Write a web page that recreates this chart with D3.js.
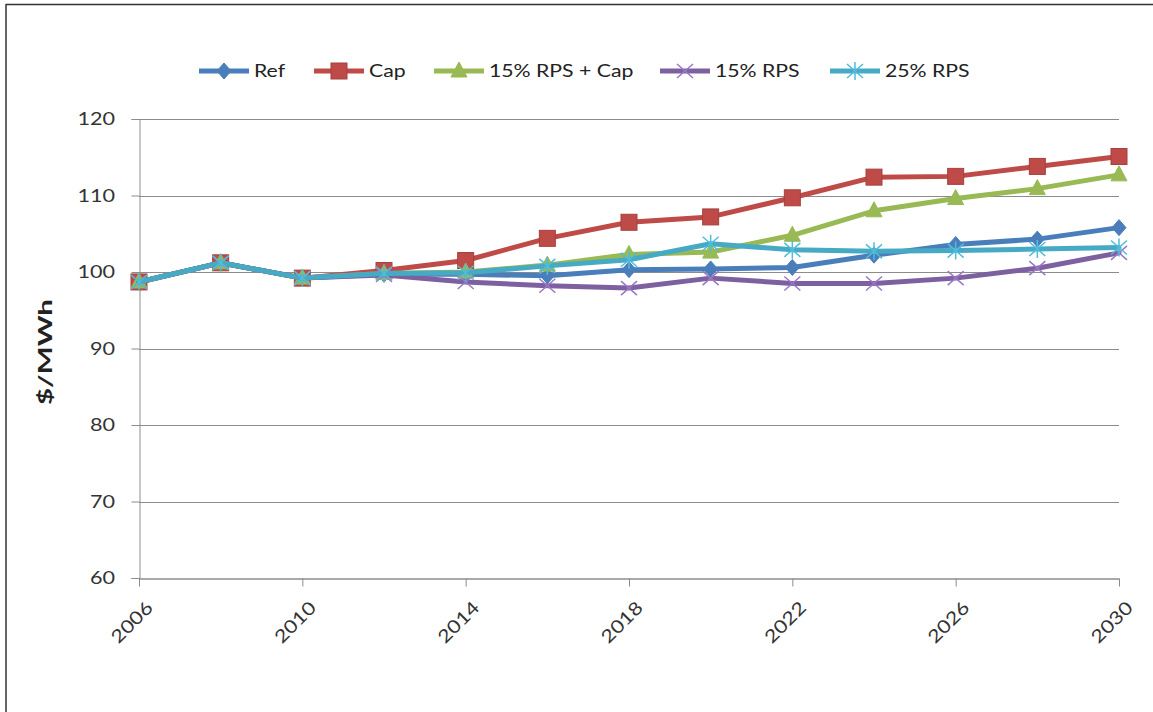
<!DOCTYPE html>
<html>
<head>
<meta charset="utf-8">
<script src="https://cdn.jsdelivr.net/npm/d3@7"></script>
<style>
  body { margin: 0; background: #fff; }
  svg { display: block; font-family: Lato, "Open Sans", sans-serif; }
</style>
</head>
<body>
<div id="chart"></div>
<script>
// Electricity price scenarios, $/MWh

const years = [2006, 2008, 2010, 2012, 2014, 2016, 2018, 2020, 2022, 2024, 2026, 2028, 2030];
const tickYears = [2006, 2010, 2014, 2018, 2022, 2026, 2030];
const yTicks = [60, 70, 80, 90, 100, 110, 120];

const seriesNames = ["Ref", "Cap", "15% RPS + Cap", "15% RPS", "25% RPS"];
const refValues = [98.7, 101.2, 99.2, 99.7, 99.7, 99.5, 100.3, 100.4, 100.6, 102.2, 103.6, 104.3, 105.8];
const capValues = [98.7, 101.2, 99.2, 100.2, 101.5, 104.4, 106.5, 107.2, 109.7, 112.4, 112.5, 113.8, 115.1];
const rpsCapValues = [98.7, 101.2, 99.2, 99.8, 100.0, 100.9, 102.3, 102.6, 104.8, 108.0, 109.6, 110.9, 112.7];
const rps15Values = [98.7, 101.2, 99.2, 99.6, 98.7, 98.2, 97.9, 99.2, 98.5, 98.5, 99.2, 100.5, 102.5];
const rps25Values = [98.7, 101.2, 99.2, 99.8, 99.9, 100.8, 101.6, 103.7, 102.9, 102.7, 102.8, 103.0, 103.2];

const colors = ["#4a7ebb", "#be4b48", "#98b954", "#7d60a0", "#46aac5"];
const markers = ["diamond", "square", "triangle", "x", "star"];

const width = 1153;
const height = 712;
const stretch = 1.2; // text in the picture is drawn wider than normal

const svg = d3.select("#chart").append("svg")
  .attr("width", width)
  .attr("height", height);

// frame (top and left edges only visible)
svg.append("line").attr("x1", 6).attr("y1", 4.5).attr("x2", width).attr("y2", 4.5)
  .attr("stroke", "#333").attr("stroke-width", 1.5);
svg.append("line").attr("x1", 6).attr("y1", 4).attr("x2", 6).attr("y2", height)
  .attr("stroke", "#333").attr("stroke-width", 1.5);

const x = d3.scaleLinear().domain([2006, 2030]).range([139, 1119]);
const y = d3.scaleLinear().domain([60, 120]).range([578, 119]);

// gridlines
svg.append("g")
  .selectAll("line")
  .data(yTicks.filter(d => d > 60))
  .join("line")
  .attr("x1", x(2006)).attr("x2", x(2030))
  .attr("y1", d => Math.round(y(d)) + 0.5).attr("y2", d => Math.round(y(d)) + 0.5)
  .attr("stroke", "#8c8c8c").attr("stroke-width", 1);

// y axis
const yAxis = svg.append("g")
  .attr("transform", `translate(${x(2006) + 0.5},0)`)
  .call(d3.axisLeft(y).tickValues(yTicks).tickSize(8).tickFormat(""));
yAxis.select(".domain").attr("stroke", "#8c8c8c");
yAxis.selectAll(".tick line").attr("stroke", "#8c8c8c");

svg.append("g")
  .selectAll("text")
  .data(yTicks)
  .join("text")
  .attr("transform", d => `translate(115,${y(d) + 6}) scale(${stretch},1)`)
  .attr("text-anchor", "end")
  .attr("font-size", 18)
  .attr("fill", "#333")
  .text(d => d);

// x axis
const xAxis = svg.append("g")
  .attr("transform", `translate(0,${Math.round(y(60)) + 0.5})`)
  .call(d3.axisBottom(x).tickValues(tickYears).tickSize(8).tickSizeOuter(0).tickFormat(""));
xAxis.select(".domain").attr("stroke", "#8c8c8c").attr("stroke-width", 1.5);
xAxis.selectAll(".tick line").attr("stroke", "#8c8c8c");

svg.append("g")
  .selectAll("text")
  .data(tickYears)
  .join("text")
  .attr("transform", d => `translate(${x(d) + 15},609) rotate(-45) scale(${stretch},1)`)
  .attr("text-anchor", "end")
  .attr("font-size", 18)
  .attr("fill", "#333")
  .text(d => d);

// y axis title
svg.append("text")
  .attr("transform", "translate(52,352) rotate(-90) scale(1.55,1)")
  .attr("text-anchor", "middle")
  .attr("font-size", 19)
  .attr("font-weight", "bold")
  .attr("fill", "#222")
  .text("$/MWh");

function drawMarker(g, type, color, cx, cy) {
  if (type === "diamond") {
    g.append("path")
      .attr("d", `M${cx},${cy - 8}L${cx + 7},${cy}L${cx},${cy + 8}L${cx - 7},${cy}Z`)
      .attr("fill", color).attr("stroke", color).attr("stroke-width", 1);
  } else if (type === "square") {
    g.append("rect")
      .attr("x", cx - 8).attr("y", cy - 8).attr("width", 16).attr("height", 16)
      .attr("fill", color).attr("stroke", d3.color(color).darker(0.4)).attr("stroke-width", 1);
  } else if (type === "triangle") {
    g.append("path")
      .attr("d", `M${cx},${cy - 9}L${cx + 8},${cy + 6}L${cx - 8},${cy + 6}Z`)
      .attr("fill", color).attr("stroke", color).attr("stroke-width", 1);
  } else if (type === "x") {
    g.append("path")
      .attr("d", `M${cx - 8},${cy - 7}L${cx + 8},${cy + 7}M${cx - 8},${cy + 7}L${cx + 8},${cy - 7}`)
      .attr("fill", "none").attr("stroke", d3.color(color).brighter(0.6)).attr("stroke-width", 1.5);
  } else if (type === "star") {
    g.append("path")
      .attr("d", `M${cx - 8},${cy - 7}L${cx + 8},${cy + 7}M${cx - 8},${cy + 7}L${cx + 8},${cy - 7}M${cx},${cy - 9}L${cx},${cy + 9}`)
      .attr("fill", "none").attr("stroke", d3.color(color).brighter(0.3)).attr("stroke-width", 1.5);
  }
}

const allValues = [refValues, capValues, rpsCapValues, rps15Values, rps25Values];

const line = d3.line()
  .x((d, i) => x(years[i]))
  .y(d => y(d));

allValues.forEach((vals, s) => {
  const g = svg.append("g");
  g.append("path")
    .datum(vals)
    .attr("d", line)
    .attr("fill", "none")
    .attr("stroke", colors[s])
    .attr("stroke-width", 5)
    .attr("stroke-linejoin", "round")
    .attr("stroke-linecap", "round");
  vals.forEach((v, i) => drawMarker(g, markers[s], colors[s], x(years[i]), y(v)));
});

// legend
const legendX = [199, 314, 434, 660, 830];
const legendY = 71;
seriesNames.forEach((name, s) => {
  const g = svg.append("g");
  g.append("line")
    .attr("x1", legendX[s]).attr("x2", legendX[s] + 50)
    .attr("y1", legendY).attr("y2", legendY)
    .attr("stroke", colors[s]).attr("stroke-width", 5);
  drawMarker(g, markers[s], colors[s], legendX[s] + 25, legendY);
  g.append("text")
    .attr("transform", `translate(${legendX[s] + 55},${legendY + 6}) scale(1.18,1)`)
    .attr("font-size", 18)
    .attr("fill", "#222")
    .text(name);
});
</script>
</body>
</html>
